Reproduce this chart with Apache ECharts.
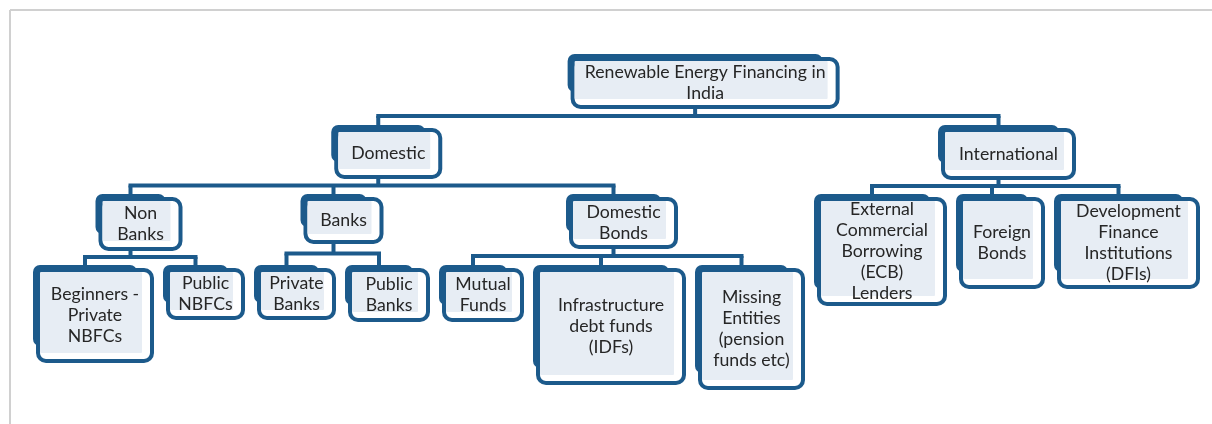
<!DOCTYPE html>
<html><head><meta charset="utf-8">
<script src="https://cdn.jsdelivr.net/npm/echarts@6/dist/echarts.min.js"></script>
<style>html,body{margin:0;padding:0;background:#fff;}#c{width:1212px;height:424px;}</style>
</head><body><div id="c"></div>
<script>
// ---- data: hierarchy ----
const nodeLabels = [
  'Renewable Energy Financing in\nIndia',
  'Domestic',
  'International',
  'Non\nBanks',
  'Banks',
  'Domestic\nBonds',
  'Beginners -\nPrivate\nNBFCs',
  'Public\nNBFCs',
  'Private\nBanks',
  'Public\nBanks',
  'Mutual\nFunds',
  'Infrastructure\ndebt funds\n(IDFs)',
  'Missing\nEntities\n(pension\nfunds etc)',
  'External\nCommercial\nBorrowing\n(ECB)\nLenders',
  'Foreign\nBonds',
  'Development\nFinance\nInstitutions\n(DFIs)'
];
const nodeParents = [null, 0, 0, 1, 1, 1, 3, 3, 4, 4, 5, 5, 5, 2, 2, 2];

// ---- layout (box sizes, spacing) ----
const boxWidths  = [265, 104, 131, 80, 76, 105, 114, 75, 75, 78, 78, 146, 103, 126, 82, 139];
const boxHeights = [48, 47, 48, 50, 43, 48, 91, 48, 48, 50, 50, 113, 118, 105, 88, 88];
const levelTops = [59, 130, 199, 270];
const leafStartX = 38, leafGap = 16, shift = 5;
const DARK = '#1c5a8b', LIGHT = '#e7edf4';

const n = nodeLabels.length;
const children = Array.from({length: n}, () => []);
nodeParents.forEach((p, i) => { if (p !== null) children[p].push(i); });
const depth = nodeParents.map((p, i) => { let d = 0, q = p; while (q !== null) { d++; q = nodeParents[q]; } return d; });
const box = new Array(n);
let cursor = leafStartX;
function place(i) {
  const w = boxWidths[i], h = boxHeights[i], y = levelTops[depth[i]];
  if (!children[i].length) { box[i] = [cursor, y, w, h]; cursor += w + leafGap; return; }
  children[i].forEach(place);
  const cs = children[i].map(c => box[c]);
  const l = Math.min(...cs.map(b => b[0])), r = Math.max(...cs.map(b => b[0] + b[2]));
  box[i] = [(l + r) / 2 - w / 2, y, w, h];
}
place(0);
const nodeData = box.map((b, i) => [b[0], b[1], b[2], b[3], i]);
const parentData = [];
children.forEach((cs, i) => { if (cs.length) parentData.push([i]); });

const chart = echarts.init(document.getElementById('c'));
chart.setOption({
  animation: false,
  grid: {left: 0, right: 0, top: 0, bottom: 0},
  xAxis: {type: 'value', min: 0, max: 1212, show: false},
  yAxis: {type: 'value', min: 0, max: 424, inverse: true, show: false},
  graphic: [
    {type: 'line', shape: {x1: 10, y1: 10, x2: 1212, y2: 10}, style: {stroke: '#d0d0d0', lineWidth: 2}, silent: true},
    {type: 'line', shape: {x1: 10, y1: 10, x2: 10, y2: 424}, style: {stroke: '#d0d0d0', lineWidth: 2}, silent: true}
  ],
  series: [
    {
      type: 'custom', z: 1, silent: true,
      data: parentData,
      renderItem: function (params, api) {
        const p = api.value(0);
        const pb = box[p];
        const stem = b => api.coord([b[0] + b[2] / 2 - 2 * shift, b[1]]);
        const ps = stem(pb);
        const childTop = levelTops[depth[p] + 1] - shift;
        const barY = api.coord([0, (pb[1] + pb[3] + childTop) / 2])[1];
        const els = [];
        const ln = (x1, y1, x2, y2) => ({type: 'line', shape: {x1, y1, x2, y2}, style: {stroke: DARK, lineWidth: 4, lineCap: 'butt'}});
        els.push(ln(ps[0], ps[1], ps[0], barY));
        const cx = children[p].map(c => stem(box[c]));
        els.push(ln(Math.min(...cx.map(c => c[0])) - 2, barY, Math.max(...cx.map(c => c[0])) + 2, barY));
        cx.forEach(c => els.push(ln(c[0], barY, c[0], c[1] + 10)));
        return {type: 'group', children: els};
      }
    },
    {
      type: 'custom', z: 2, silent: true,
      data: nodeData,
      renderItem: function (params, api) {
        const tl = api.coord([api.value(0), api.value(1)]);
        const sz = api.size([api.value(2), api.value(3)]);
        const x = tl[0], y = tl[1], w = sz[0], h = sz[1];
        const i = api.value(4);
        return {type: 'group', children: [
          {type: 'rect', shape: {x: x - shift, y: y - shift, width: w - 2 * shift, height: h - 2 * shift, r: 7}, style: {fill: DARK}},
          {type: 'rect', shape: {x: x, y: y, width: w, height: h, r: 8}, style: {fill: '#fff', stroke: DARK, lineWidth: 4}},
          {type: 'rect', shape: {x: x + 2, y: y + 2, width: w - 12, height: h - 10, r: 1}, style: {fill: LIGHT}},
          {type: 'text', x: x + w / 2, y: y + h / 2, style: {text: nodeLabels[i], fill: '#262626', font: '17.7px Lato', align: 'center', verticalAlign: 'middle', lineHeight: 21}}
        ]};
      }
    }
  ]
});
</script>
</body></html>
